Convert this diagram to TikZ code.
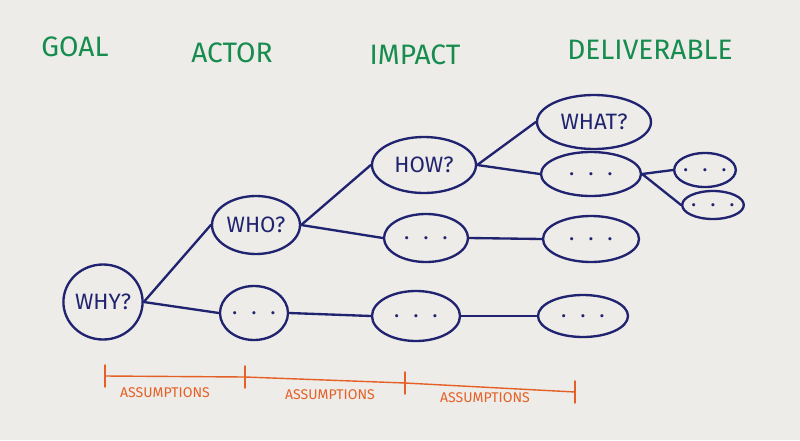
\documentclass[tikz,border=0pt]{standalone}
\usepackage{fontspec}
\setmainfont{Fira Sans}
\usetikzlibrary{shapes.geometric}

\definecolor{boardbg}{RGB}{238,236,232}
\definecolor{marker}{RGB}{32,36,112}
\definecolor{headgreen}{RGB}{22,140,78}
\definecolor{noteorange}{RGB}{228,96,38}

\newcommand{\gap}{. \ . \ .}

\tikzset{
  bubble/.style={ellipse, draw=marker, line width=2pt, inner sep=0pt, text=marker,
    font=\fontsize{19}{21}\selectfont},
  link/.style={draw=marker, line width=2pt},
  head/.style={text=headgreen, font=\fontsize{24}{26}\selectfont},
  note/.style={text=noteorange, font=\fontsize{12}{14}\selectfont},
}

\begin{document}
\begin{tikzpicture}[x=0.03cm, y=-0.03cm, line cap=round, line join=round]
  \fill[boardbg] (0,0) rectangle (800,440);
  \useasboundingbox (0,0) rectangle (800,440);

  % column headings
  \node[head] (goal) at (75,47) {GOAL};
  \node[head] (actor) at (232,53) {ACTOR};
  \node[head] (impact) at (415,55) {IMPACT};
  \node[head] (deliv) at (650,50) {DELIVERABLE};

  % bubbles
  \node[bubble, minimum width=2.28cm, minimum height=2.25cm] (why) at (103,302) {WHY?};
  \node[bubble, minimum width=2.64cm, minimum height=1.74cm] (who) at (256,225) {WHO?};
  \node[bubble, minimum width=2.04cm, minimum height=1.62cm] (act2) at (254,313) {\gap};
  \node[bubble, minimum width=3.12cm, minimum height=1.68cm] (how) at (424,165) {HOW?};
  \node[bubble, minimum width=2.52cm, minimum height=1.44cm] (imp2) at (426,238) {\gap};
  \node[bubble, minimum width=2.64cm, minimum height=1.50cm] (imp3) at (416,316) {\gap};
  \node[bubble, minimum width=3.42cm, minimum height=1.62cm] (what) at (594,122) {WHAT?};
  \node[bubble, minimum width=3.00cm, minimum height=1.32cm] (del1) at (591,174) {\gap};
  \node[bubble, minimum width=2.88cm, minimum height=1.38cm] (del2) at (591,239) {\gap};
  \node[bubble, minimum width=2.70cm, minimum height=1.26cm] (del3) at (583,316) {\gap};
  \node[bubble, minimum width=1.68cm, minimum height=1.02cm] (sub1) at (705,170) {\gap};
  \node[bubble, minimum width=1.80cm, minimum height=0.84cm] (sub2) at (713,205) {\gap};

  % links
  \draw[link] (why.east) -- (who.west);
  \draw[link] (why.east) -- (act2.west);
  \draw[link] (who.east) -- (how.west);
  \draw[link] (who.east) -- (imp2.west);
  \draw[link] (act2.east) -- (imp3.west);
  \draw[link] (how.east) -- (what.west);
  \draw[link] (how.east) -- (del1.west);
  \draw[link] (imp2.east) -- (del2.west);
  \draw[link] (imp3.east) -- (del3.west);
  \draw[link] (del1.east) -- (sub1.west);
  \draw[link] (del1.east) -- (sub2.west);

  % assumptions line
  \coordinate (t0) at (105,376);
  \coordinate (t1) at (245,377);
  \coordinate (t2) at (405,383);
  \coordinate (t3) at (575,392);
  \draw[noteorange, line width=1.2pt] (t0) -- (t1) -- (t2) -- (t3);
  \foreach \t in {t0,t1,t2,t3}
    \draw[noteorange, line width=1.2pt] ([yshift=0.33cm]\t) -- ([yshift=-0.33cm]\t);

  \node[note] (as1) at (165,393) {ASSUMPTIONS};
  \node[note] (as2) at (330,395) {ASSUMPTIONS};
  \node[note] (as3) at (485,398) {ASSUMPTIONS};
\end{tikzpicture}
\end{document}
